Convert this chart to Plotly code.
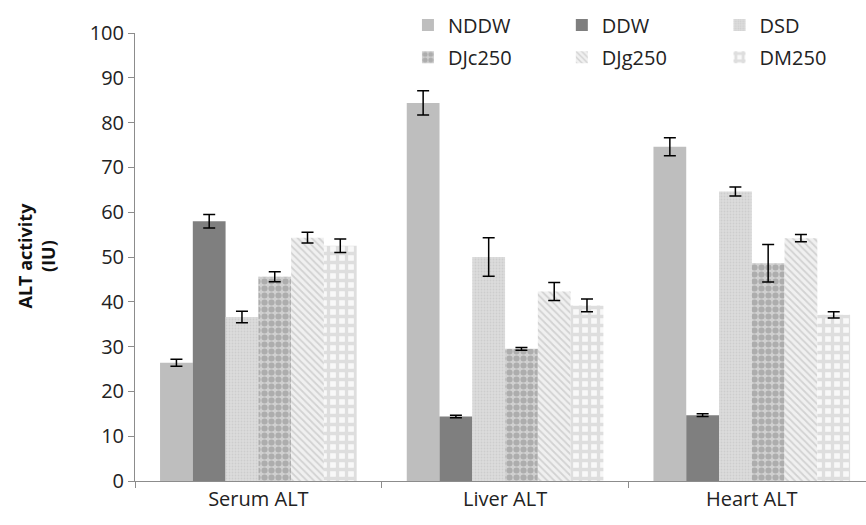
import plotly.graph_objects as go

categories = ["Serum ALT", "Liver ALT", "Heart ALT"]
series_names = ["NDDW", "DDW", "DSD", "DJc250", "DJg250", "DM250"]
nddw = [26.4, 84.4, 74.6]
ddw = [58.0, 14.4, 14.7]
dsd = [36.6, 50.0, 64.6]
djc250 = [45.6, 29.5, 48.6]
djg250 = [54.3, 42.3, 54.2]
dm250 = [52.5, 39.2, 37.1]
nddw_err = [0.8, 2.7, 2.0]
ddw_err = [1.5, 0.3, 0.3]
dsd_err = [1.3, 4.3, 1.0]
djc250_err = [1.1, 0.3, 4.2]
djg250_err = [1.2, 2.0, 0.8]
dm250_err = [1.5, 1.4, 0.7]

values = [nddw, ddw, dsd, djc250, djg250, dm250]
errors = [nddw_err, ddw_err, dsd_err, djc250_err, djg250_err, dm250_err]

styles = [
    dict(color="#BEBEBE"),
    dict(color="#7F7F7F"),
    dict(color="#D6D6D6", pattern=dict(shape=".", fgcolor="#BDBDBD", bgcolor="#DCDCDC", size=3, solidity=0.3)),
    dict(color="#8C8C8C", pattern=dict(shape=".", fgcolor="#8A8A8A", bgcolor="#D0D0D0", size=7, solidity=0.6)),
    dict(color="#C8C8C8", pattern=dict(shape="\\", fgcolor="#B4B4B4", bgcolor="#F0F0F0", size=5, solidity=0.35)),
    dict(color="#C8C8C8", pattern=dict(shape="+", fgcolor="#C4C4C4", bgcolor="#F8F8F8", size=9, solidity=0.6)),
]

# legend anchor positions (paper fractions) for each entry
legend_x = [0.3734, 0.5839, 0.7996, 0.3734, 0.5839, 0.7996]
legend_y = [1.018, 1.018, 1.018, 0.946, 0.946, 0.946]

font = "Open Sans, DejaVu Sans, sans-serif"
fig = go.Figure()
legend_layout = {}
for i, name in enumerate(series_names):
    key = "legend" if i == 0 else f"legend{i+1}"
    fig.add_trace(go.Bar(
        x=categories, y=values[i], name=name,
        marker=dict(line=dict(width=0), **styles[i]),
        error_y=dict(type="data", array=errors[i], color="black", thickness=1.5, width=6),
        legend=key,
    ))
    legend_layout[key] = dict(x=legend_x[i], y=legend_y[i], orientation="h",
                              xanchor="left", yanchor="middle", font=dict(size=20),
                              bgcolor="rgba(0,0,0,0)", borderwidth=0)

fig.update_layout(
    width=866, height=525,
    margin=dict(l=135, r=0, t=33, b=44),
    paper_bgcolor="white", plot_bgcolor="white",
    barmode="group", bargap=0.203, bargroupgap=0,
    font=dict(family=font, size=20, color="#222"),
    showlegend=True,
    xaxis=dict(range=[-0.5, 2.463], showline=True, linecolor="#8C8C8C", linewidth=1,
               ticks="outside", tickson="boundaries", ticklen=6, tickcolor="#8C8C8C",
               showgrid=False, tickfont=dict(size=20)),
    yaxis=dict(range=[0, 100], dtick=10, showline=True, linecolor="#8C8C8C", linewidth=1,
               ticks="outside", ticklen=6, tickcolor="#8C8C8C", showgrid=False, zeroline=False,
               tickfont=dict(size=20)),
    annotations=[dict(text="<b>ALT activity<br>(IU)</b>", textangle=-90, x=-0.135, y=0.504,
                      xref="paper", yref="paper", showarrow=False, font=dict(size=18, color="#111"),
                      xanchor="center", yanchor="middle")],
    **legend_layout,
)

fig.write_html("out.html")
